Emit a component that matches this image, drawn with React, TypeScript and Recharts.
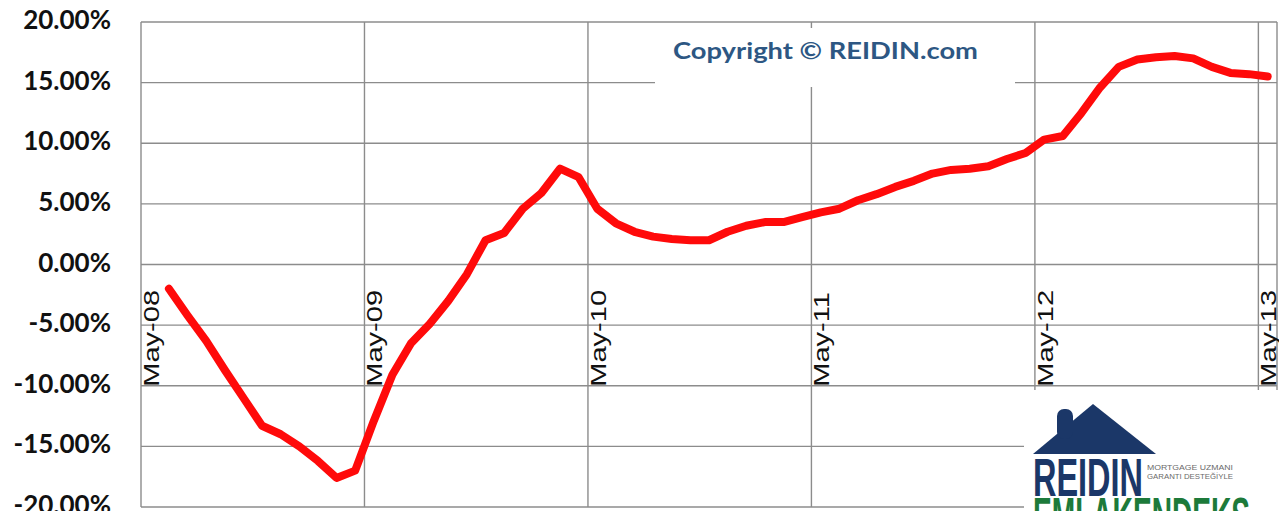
import React from 'react';
import { LineChart, Line, XAxis, YAxis, CartesianGrid } from 'recharts';

// monthly index change, Jun-08 .. May-13
const months = [
  'Jun-08', 'Jul-08', 'Aug-08', 'Sep-08', 'Oct-08', 'Nov-08', 'Dec-08', 'Jan-09', 'Feb-09', 'Mar-09', 'Apr-09', 'May-09',
  'Jun-09', 'Jul-09', 'Aug-09', 'Sep-09', 'Oct-09', 'Nov-09', 'Dec-09', 'Jan-10', 'Feb-10', 'Mar-10', 'Apr-10', 'May-10',
  'Jun-10', 'Jul-10', 'Aug-10', 'Sep-10', 'Oct-10', 'Nov-10', 'Dec-10', 'Jan-11', 'Feb-11', 'Mar-11', 'Apr-11', 'May-11',
  'Jun-11', 'Jul-11', 'Aug-11', 'Sep-11', 'Oct-11', 'Nov-11', 'Dec-11', 'Jan-12', 'Feb-12', 'Mar-12', 'Apr-12', 'May-12',
  'Jun-12', 'Jul-12', 'Aug-12', 'Sep-12', 'Oct-12', 'Nov-12', 'Dec-12', 'Jan-13', 'Feb-13', 'Mar-13', 'Apr-13', 'May-13',
];

const changePct = [
  -2.0, -4.2, -6.3, -8.7, -11.0, -13.3, -14.0, -15.0, -16.2, -17.6, -17.0, -12.9,
  -9.1, -6.5, -4.9, -3.0, -0.8, 2.0, 2.6, 4.6, 5.9, 7.9, 7.2, 4.6,
  3.4, 2.7, 2.3, 2.1, 2.0, 2.0, 2.7, 3.2, 3.5, 3.5, 3.9, 4.3,
  4.6, 5.3, 5.8, 6.4, 6.9, 7.5, 7.8, 7.9, 8.1, 8.7, 9.2, 10.3,
  10.6, 12.5, 14.6, 16.3, 16.9, 17.1, 17.2, 17.0, 16.3, 15.8, 15.7, 15.5,
];

const xTickLabels = ['May-08', 'May-09', 'May-10', 'May-11', 'May-12', 'May-13'];
const xTicks = [0, 12, 24, 36, 48, 60];
const yTicks = [-20, -15, -10, -5, 0, 5, 10, 15, 20];

const W = 1287;
const H = 519;
const MARGIN = { top: 22, right: 10, bottom: 11, left: 0 };
const X_AXIS_H = 1;
const Y_MIN = -20;
const Y_MAX = 20;

// points sit in the middle of their month band
const data = months.map((m, i) => ({ t: i + 1.5, month: m, value: changePct[i] }));

const DateTick = (props: any) => {
  const { x, payload } = props;
  const idx = xTicks.indexOf(payload.value);
  const plotH = H - MARGIN.top - MARGIN.bottom - X_AXIS_H;
  const yAt = MARGIN.top + ((Y_MAX - -10) / (Y_MAX - Y_MIN)) * plotH + 1;
  return (
    <text
      transform={`translate(${x + 18},${yAt}) rotate(-90) scale(1.32,1)`}
      fontFamily="Liberation Sans, Arial, sans-serif"
      fontSize={22}
      fill="#111"
      textAnchor="start"
    >
      {xTickLabels[idx]}
    </text>
  );
};

const PctTick = (props: any) => {
  const { x, y, payload } = props;
  return (
    <text x={x} y={y - 2} dy="0.35em" textAnchor="end" fill="#111" fontSize={26} fontWeight={700}
      fontFamily="Lato, sans-serif">
      {`${Number(payload.value).toFixed(2)}%`}
    </text>
  );
};

const App = () => {
  return (
    <div style={{ position: 'relative', width: W, height: H, margin: -8, background: '#fff', overflow: 'hidden' }}>
      <LineChart width={W} height={H} data={data} margin={MARGIN}>
        <CartesianGrid stroke="#8c8c8c" strokeWidth={1.4} />
        <XAxis
          type="number"
          dataKey="t"
          domain={[0, 61]}
          ticks={xTicks}
          interval={0}
          height={X_AXIS_H}
          axisLine={false}
          tickLine={false}
          tick={<DateTick />}
        />
        <YAxis
          type="number"
          domain={[Y_MIN, Y_MAX]}
          ticks={yTicks}
          interval={0}
          width={141}
          axisLine={false}
          tickLine={false}
          tickSize={0}
          tickMargin={30}
          tick={<PctTick />}
        />
        <Line
          type="linear"
          dataKey="value"
          stroke="#ff0a0a"
          strokeWidth={8}
          strokeLinecap="round"
          strokeLinejoin="round"
          dot={false}
          isAnimationActive={false}
        />
      </LineChart>

      <svg width={W} height={H} style={{ position: 'absolute', left: 0, top: 0, pointerEvents: 'none' }}>
        {/* copyright label box */}
        <rect x={655} y={28} width={360} height={59} fill="#fff" />
        <text x={673} y={59} fontFamily="Lato, sans-serif" fontWeight={700} fontSize={22}
          fill="#2d5783" textLength={305} lengthAdjust="spacingAndGlyphs">
          Copyright © REIDIN.com
        </text>

        {/* logo */}
        <rect x={1024} y={390} width={263} height={129} fill="#fff" />
        <polygon points="1033,454 1093,404 1156,454" fill="#1b3768" />
        <rect x={1057} y={409} width={16} height={30} rx={7} fill="#1b3768" />
        <text transform="translate(1033,496) scale(1,1.35)" fontFamily="Liberation Sans, sans-serif"
          fontWeight={700} fontSize={40} fill="#1b3768" textLength={110} lengthAdjust="spacingAndGlyphs">
          REIDIN
        </text>
        <text x={1147} y={470} fontFamily="Liberation Sans, sans-serif"
          fontSize={8} fill="#6a6a6a" textLength={86} lengthAdjust="spacingAndGlyphs">
          MORTGAGE UZMANI
        </text>
        <text x={1147} y={479} fontFamily="Liberation Sans, sans-serif"
          fontSize={8} fill="#6a6a6a" textLength={86} lengthAdjust="spacingAndGlyphs">
          GARANTI DESTEĞİYLE
        </text>
        <text transform="translate(1033,534) scale(1,1.35)" fontFamily="Liberation Sans, sans-serif"
          fontWeight={700} fontSize={38} fill="#1d7a3a" textLength={217} lengthAdjust="spacingAndGlyphs">
          EMLAKENDEKS
        </text>
      </svg>
    </div>
  );
};

export default App;
